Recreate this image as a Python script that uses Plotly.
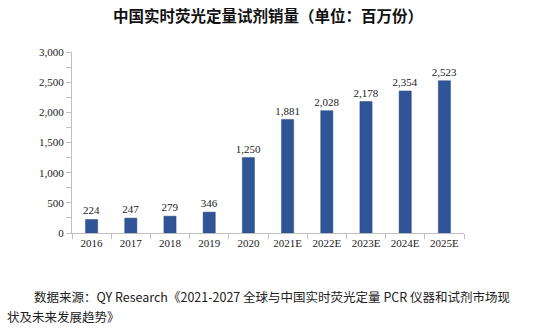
import plotly.graph_objects as go

years = ["2016", "2017", "2018", "2019", "2020", "2021E", "2022E", "2023E", "2024E", "2025E"]
sales = [224, 247, 279, 346, 1250, 1881, 2028, 2178, 2354, 2523]
title_text = "中国实时荧光定量试剂销量（单位：百万份）"
note_line1 = "数据来源：QY Research《2021-2027 全球与中国实时荧光定量 PCR 仪器和试剂市场现"
note_line2 = "状及未来发展趋势》"

serif = "Liberation Serif, Times New Roman, serif"
cjk = "Noto Sans CJK SC, sans-serif"

fig = go.Figure(go.Bar(
    x=years, y=sales,
    marker=dict(color="#2F5597", line=dict(color="#2A4A85", width=0.5)),
    texttemplate="%{y:,}", textposition="outside",
    textfont=dict(family=serif, size=11, color="#222"),
    cliponaxis=False,
))

L, R, T, B = 72, 86, 52, 97
pw, ph = 550 - L - R, 330 - T - B

fig.update_layout(
    width=550, height=330,
    margin=dict(l=L, r=R, t=T, b=B),
    paper_bgcolor="white", plot_bgcolor="white",
    bargap=0.69,
    showlegend=False,
    uniformtext=dict(minsize=11, mode="show"),
    title=dict(text=title_text, x=0.5, xref="paper", xanchor="center",
               y=1 - 17 / 330, yref="container", yanchor="middle",
               font=dict(family=cjk, size=15.5, color="#111", weight="bold")),
    xaxis=dict(showgrid=False, showline=True, linecolor="#BFBFBF", linewidth=1,
               ticks="outside", tickson="boundaries", tickcolor="#BFBFBF", ticklen=5,
               tickfont=dict(family=serif, size=11, color="#222")),
    yaxis=dict(range=[0, 3000], dtick=500, tickformat=",", showgrid=False,
               showline=True, linecolor="#BFBFBF", linewidth=1,
               ticks="outside", tickcolor="#BFBFBF", ticklen=5,
               minor=dict(dtick=250, ticks="outside", ticklen=5, tickcolor="#BFBFBF"),
               tickfont=dict(family=serif, size=11, color="#222"), zeroline=False),
)

fig.add_annotation(text=note_line1, xref="paper", yref="paper",
                   x=(32 - L) / pw, y=(330 - B - 296) / ph, xanchor="left", yanchor="middle",
                   showarrow=False, font=dict(family=cjk, size=12.5, color="#222"))
fig.add_annotation(text=note_line2, xref="paper", yref="paper",
                   x=(5 - L) / pw, y=(330 - B - 316) / ph, xanchor="left", yanchor="middle",
                   showarrow=False, font=dict(family=cjk, size=12.5, color="#222"))

fig.write_html("out.html")
